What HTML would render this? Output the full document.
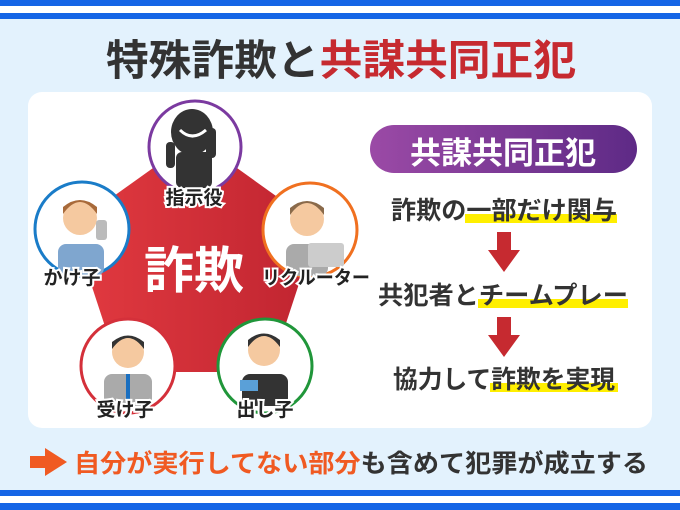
<!DOCTYPE html>
<html><head><meta charset="utf-8"><style>
html,body{margin:0;padding:0}
body{width:680px;height:510px;overflow:hidden;background:#e3f2fd;font-family:"Liberation Sans","Noto Sans CJK JP",sans-serif}
</style></head><body>
<svg width="680" height="510" viewBox="0 0 680 510" xmlns="http://www.w3.org/2000/svg" style="display:block;font-family:'Liberation Sans','Noto Sans CJK JP',sans-serif">
<defs>
<linearGradient id="pg" x1="0" x2="1" y1="0" y2="0"><stop offset="0" stop-color="#e23a40"/><stop offset="1" stop-color="#bf2430"/></linearGradient>
<linearGradient id="pu" x1="0" x2="1"><stop offset="0" stop-color="#9b4aa6"/><stop offset="1" stop-color="#5e2a86"/></linearGradient>
</defs>
<rect width="680" height="510" fill="#e3f2fd"/>
<rect y="0" width="680" height="6" fill="#1565e6"/>
<rect y="6" width="680" height="7" fill="#fff"/>
<rect y="13" width="680" height="6" fill="#1565e6"/>
<rect y="490" width="680" height="6" fill="#1565e6"/>
<rect y="496" width="680" height="7" fill="#fff"/>
<rect y="503" width="680" height="7" fill="#1565e6"/>
<text x="106" y="75" textLength="470" lengthAdjust="spacingAndGlyphs" font-size="42" font-weight="bold" fill="#333">特殊詐欺と<tspan fill="#c62a30">共謀共同正犯</tspan></text>
<rect x="28" y="92" width="624" height="336" rx="14" fill="#fff"/>
<polygon points="195,138 318,226 270,372 120,372 72,226" fill="url(#pg)"/>
<text x="194" y="288" text-anchor="middle" font-size="50" font-weight="bold" fill="#fff">詐欺</text>
<g stroke-width="3" fill="#fff">
<circle cx="195" cy="147" r="46" stroke="#7b3aa0"/>
<circle cx="82" cy="229" r="47" stroke="#1a7cc8"/>
<circle cx="310" cy="230" r="47" stroke="#f07020"/>
<circle cx="128" cy="366" r="47" stroke="#d4303a"/>
<circle cx="265" cy="366" r="47" stroke="#20963a"/>
</g>
<!-- boss -->
<g fill="#333"><ellipse cx="192" cy="132" rx="21" ry="23"/><rect x="176" y="152" width="36" height="36" rx="6"/><rect x="166" y="142" width="9" height="26" rx="4"/><rect x="206" y="128" width="10" height="30" rx="4"/></g>
<path d="M180 130 q12 12 26 0" stroke="#fff" stroke-width="3" fill="none"/>
<!-- people -->
<g>
<rect x="58" y="244" width="46" height="32" rx="8" fill="#7fa6cf"/><circle cx="80" cy="218" r="17" fill="#f5c9a0"/><path d="M63 214 q17 -24 34 0 v-7 q-17 -14 -34 0z" fill="#a86a3a"/><rect x="96" y="220" width="11" height="20" rx="3" fill="#bbb"/>
<rect x="286" y="244" width="42" height="32" rx="8" fill="#aaa"/><circle cx="307" cy="219" r="17" fill="#f5c9a0"/><path d="M290 215 q17 -24 34 0 v-7 q-17 -14 -34 0z" fill="#8a6a4a"/><rect x="308" y="243" width="36" height="24" rx="3" fill="#ccc"/>
<rect x="104" y="374" width="48" height="32" rx="8" fill="#aaa"/><circle cx="128" cy="352" r="16" fill="#f5c9a0"/><path d="M112 349 q16 -22 32 0 v-7 q-16 -13 -32 0z" fill="#333"/><rect x="126" y="374" width="4" height="26" fill="#1a6fc0"/>
<rect x="242" y="374" width="46" height="32" rx="8" fill="#333"/><circle cx="264" cy="350" r="16" fill="#f5c9a0"/><path d="M248 347 q16 -22 32 0 v-7 q-16 -13 -32 0z" fill="#333"/><rect x="240" y="380" width="18" height="11" fill="#5aa0d8"/>
</g>
<g font-size="19" font-weight="bold" text-anchor="middle" fill="#222" stroke="#fff" stroke-width="4" paint-order="stroke">
<text x="194" y="204">指示役</text>
<text x="72" y="284">かけ子</text>
<text x="316" y="284" textLength="108" lengthAdjust="spacingAndGlyphs">リクルーター</text>
<text x="125" y="416">受け子</text>
<text x="265" y="416">出し子</text>
</g>
<rect x="370" y="125" width="267" height="48" rx="24" fill="url(#pu)"/>
<text x="503" y="164" text-anchor="middle" font-size="31" font-weight="bold" fill="#fff">共謀共同正犯</text>
<g fill="#ffef00"><rect x="465" y="214" width="152" height="9"/><rect x="478" y="299" width="150" height="9"/><rect x="490" y="383" width="128" height="9"/></g>
<g font-size="25" font-weight="bold" fill="#333">
<text x="391" y="219" textLength="226" lengthAdjust="spacingAndGlyphs">詐欺の一部だけ関与</text>
<text x="378" y="304" textLength="250" lengthAdjust="spacingAndGlyphs">共犯者とチームプレー</text>
<text x="393" y="388" textLength="222" lengthAdjust="spacingAndGlyphs">協力して詐欺を実現</text>
</g>
<g fill="#c62a30"><polygon points="497,232 511,232 511,250 520,250 504,272 488,250 497,250"/><polygon points="497,317 511,317 511,335 520,335 504,357 488,335 497,335"/></g>
<polygon points="30,456 45,456 45,448 67,462 45,476 45,468 30,468" fill="#f05a22"/>
<text x="74" y="472" textLength="574" lengthAdjust="spacingAndGlyphs" font-size="25" font-weight="bold" fill="#333"><tspan fill="#f05a22">自分が実行してない部分</tspan>も含めて犯罪が成立する</text>
</svg>
</body></html>
